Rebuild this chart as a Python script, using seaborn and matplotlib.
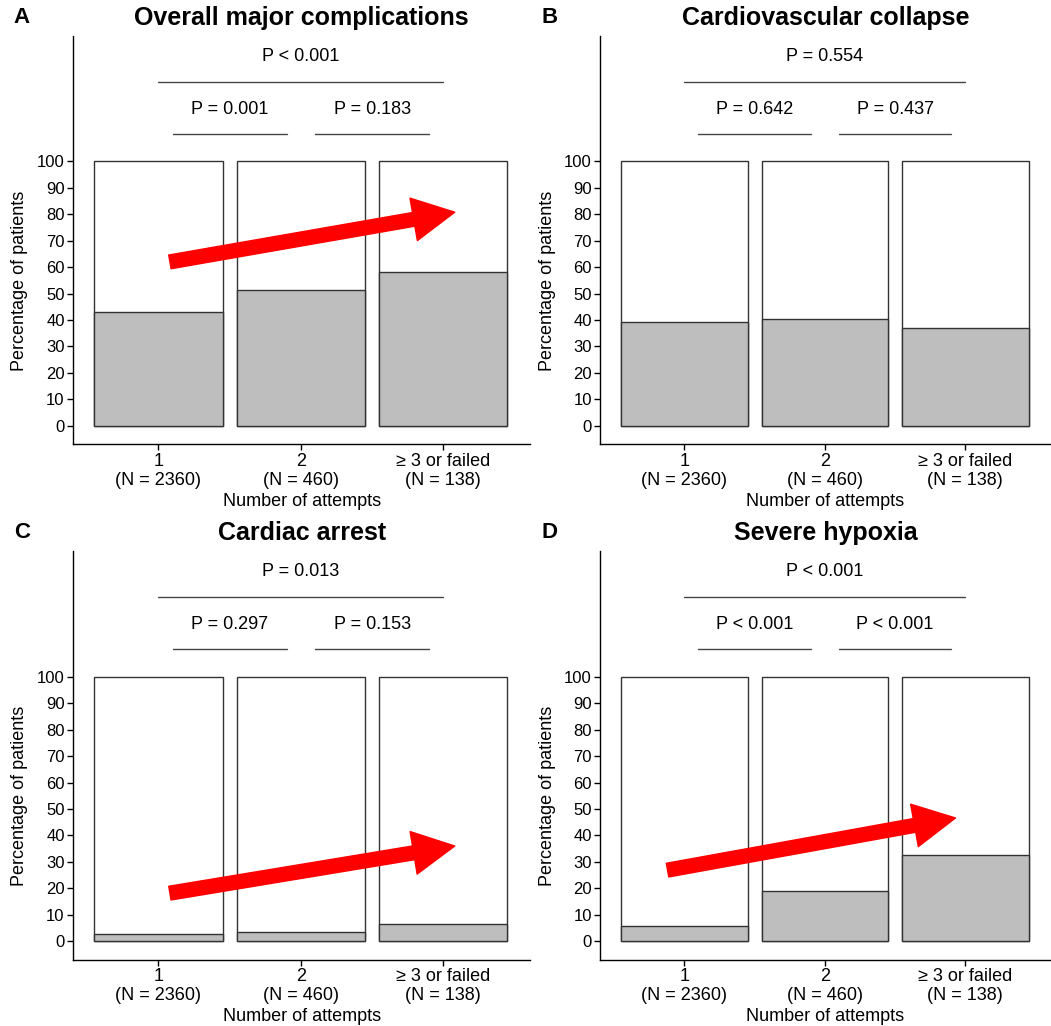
import numpy as np
import pandas as pd
import matplotlib.pyplot as plt
import seaborn as sns

sns.set_theme(style="ticks")
plt.rcParams['font.family'] = ['Liberation Sans', 'DejaVu Sans']
for k in ["text.color", "axes.labelcolor", "xtick.color", "ytick.color"]:
    plt.rcParams[k] = "black"

# data
attempts = ["1\n(N = 2360)", "2\n(N = 460)", "\u2265 3 or failed\n(N = 138)"]
titles = ["Overall major complications", "Cardiovascular collapse",
          "Cardiac arrest", "Severe hypoxia"]
letters = ["A", "B", "C", "D"]
overall = [43.2, 51.4, 58.1]
cv_collapse = [39.4, 40.5, 37.1]
cardiac_arrest = [2.9, 3.5, 6.6]
hypoxia = [5.8, 18.9, 32.7]
p_all = ["P < 0.001", "P = 0.554", "P = 0.013", "P < 0.001"]
p_1v2 = ["P = 0.001", "P = 0.642", "P = 0.297", "P < 0.001"]
p_2v3 = ["P = 0.183", "P = 0.437", "P = 0.153", "P < 0.001"]
# trend arrows (start x, start y, tip x, tip y) or None
arrows = [(0.08, 62.0, 2.08, 80.8), None, (0.08, 18.2, 2.08, 36.0), (-0.12, 26.9, 1.93, 46.6)]

series = [overall, cv_collapse, cardiac_arrest, hypoxia]

fig = plt.figure(figsize=(10.51, 10.26), dpi=100)
boxes = [[0.0695, 0.567, 0.435, 0.398], [0.571, 0.567, 0.429, 0.398],
         [0.0695, 0.0645, 0.435, 0.3985], [0.571, 0.0645, 0.429, 0.3985]]

edge = "#333333"
for i in range(4):
    ax = fig.add_axes(boxes[i])
    df = pd.DataFrame({"attempts": attempts, "pct": series[i], "total": [100] * 3})
    sns.barplot(data=df, x="attempts", y="total", color="white", edgecolor=edge,
                linewidth=1, width=0.9, saturation=1, ax=ax)
    sns.barplot(data=df, x="attempts", y="pct", color="#BEBEBE", edgecolor=edge,
                linewidth=1, width=0.9, saturation=1, ax=ax)
    ax.set_xlim(-0.6, 2.61)
    ax.set_ylim(-7, 147.5)
    ax.set_yticks(range(0, 101, 10))
    ax.tick_params(axis="y", labelsize=12, length=4, width=1, pad=2)
    ax.tick_params(axis="x", labelsize=13, length=4, width=1, pad=2)
    for lab in ax.get_xticklabels():
        lab.set_linespacing(1.15)
    sns.despine(ax=ax)
    for s in ["left", "bottom"]:
        ax.spines[s].set_color("black")
        ax.spines[s].set_linewidth(1)
    ax.set_xlabel("Number of attempts", fontsize=13, labelpad=3)
    ax.set_ylabel("Percentage of patients", fontsize=13)
    ax.yaxis.set_label_coords(-0.098, 0.40)

    # significance brackets
    ax.plot([0, 2], [130.2, 130.2], color="#444444", lw=1)
    ax.plot([0.1, 0.9], [110.4, 110.4], color="#444444", lw=1)
    ax.plot([1.1, 1.9], [110.4, 110.4], color="#444444", lw=1)
    ax.text(1, 139.7, p_all[i], ha="center", va="center", fontsize=13)
    ax.text(0.5, 119.7, p_1v2[i], ha="center", va="center", fontsize=13)
    ax.text(1.5, 119.7, p_2v3[i], ha="center", va="center", fontsize=13)

    if arrows[i] is not None:
        x0, y0, x1, y1 = arrows[i]
        ax.annotate("", xy=(x1, y1), xytext=(x0, y0),
                    arrowprops=dict(arrowstyle="simple,head_length=3.0,head_width=3.1,tail_width=1.0",
                                    color="red", shrinkA=0, shrinkB=0, mutation_scale=10))

    ax.set_title(titles[i], fontsize=18, fontweight="bold", pad=8)
    ax.text(-0.112, 1.045, letters[i], transform=ax.transAxes, fontsize=16,
            fontweight="bold", ha="center", va="center")

fig.savefig("out.png", dpi=100, facecolor="white")
